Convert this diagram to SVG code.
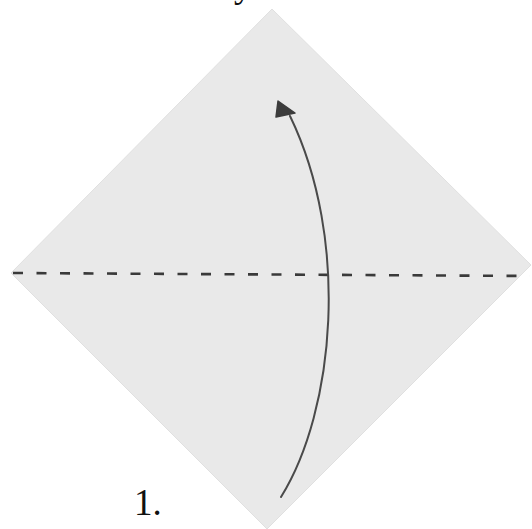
<svg xmlns="http://www.w3.org/2000/svg" width="532" height="529" viewBox="0 0 532 529">
  <defs>
    <style>
      .paper { fill: #e9e9e9; stroke: #e0e0e0; stroke-width: 1; }
      .fold { fill: none; stroke: #3a3a3a; stroke-width: 2.6; stroke-dasharray: 10 13.5; }
      .arrow { fill: none; stroke: #4a4a4a; stroke-width: 2; stroke-linecap: round; }
      .label { font-family: "Liberation Serif", "Times New Roman", serif; fill: #111; }
    </style>
  </defs>
  <rect width="532" height="529" fill="#ffffff"/>
  <text class="label" x="234" y="-3" font-size="37">y</text>
  <g id="paper">
    <polygon class="paper" points="272,9 531,265 267,529 11,273"/>
  </g>
  <g id="fold-line">
    <line class="fold" x1="13" y1="273" x2="530" y2="276"/>
  </g>
  <g id="connectors">
    <path class="arrow" d="M281,497 C335,410 350,240 290,116"/>
    <path d="M278,101 L295,113 L276,117 Z" fill="#3c3c3c" stroke="#3c3c3c" stroke-width="1.5" stroke-linejoin="round"/>
  </g>
  <g id="step-label">
    <text class="label" x="134" y="515" font-size="37">1.</text>
  </g>
</svg>
